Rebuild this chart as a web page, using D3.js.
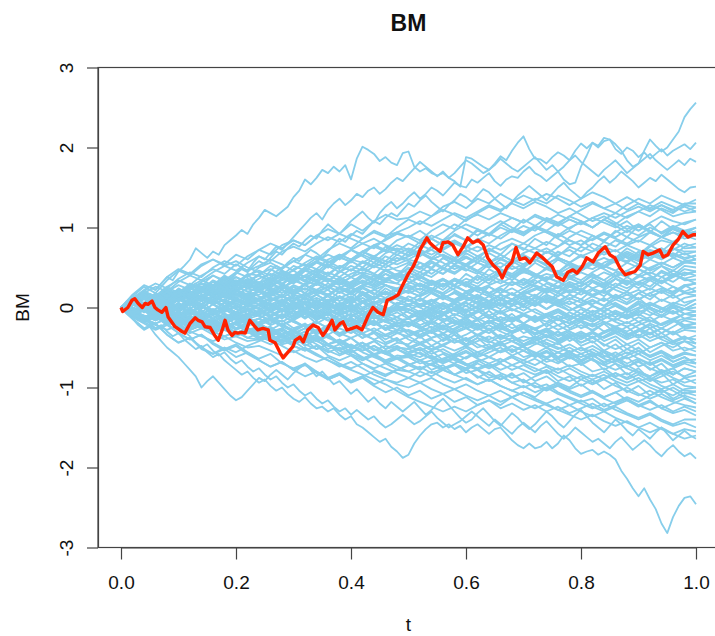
<!DOCTYPE html>
<html>
<head>
<meta charset="utf-8">
<script src="https://cdn.jsdelivr.net/npm/d3@7"></script>
<style>
  body { margin: 0; background: #ffffff; }
  svg { display: block; }
  text { font-family: "Liberation Sans", Arial, Helvetica, sans-serif; fill: #111; }
</style>
</head>
<body>
<svg id="chart" width="715" height="636"></svg>
<script>
// Axis ticks
const xTicks = [0, 0.2, 0.4, 0.6, 0.8, 1.0];
const yTicks = [-3, -2, -1, 0, 1, 2, 3];

// Simulated Brownian paths on [0, 1], values in hundredths, equally spaced in time.
const high1 = [0,8,14,10,20,26,22,30,38,34,45, 52,60,74,68,62,70,66,78,84,90, 97,92,104,112,122,118,114,120,126,138, 146,160,154,162,172,168,176,170,178,160, 186,201,197,192,183,188,181,178,193,195, 176,170,174,168,165,168,162,158,151,188, 186,181,176,172,180,189,184,196,206,214, 198,186,185,180,188,194,190,184,196,205, 199,206,202,212,210,198,192,200,196,188, 194,186,192,198,190,196,200,204,198,206];
const high2 = [0,-6,2,10,4,12,18,14,8,16,22, 18,26,30,24,34,40,36,28,34,42, 48,44,52,58,54,62,70,66,74,80, 76,84,90,86,96,104,98,92,100,108, 114,120,112,106,118,126,132,124,130,138, 144,136,142,150,146,140,148,156,152,150, 160,156,162,168,158,152,160,164,162,170, 176,168,164,158,164,170,160,154,156,176, 190,206,200,208,210,204,196,184,176,180, 196,210,202,195,200,210,220,238,248,256];
const high3 = [0,6,-2,4,12,8,16,10,4,12,18, 24,20,14,22,30,26,34,40,36,44, 50,46,56,64,60,68,76,72,80,88, 96,104,112,118,110,122,130,136,128,134, 142,138,146,150,142,148,156,162,158,166, 174,182,176,170,164,170,162,168,176,184, 180,174,168,172,178,186,180,174,170,176, 182,188,180,172,178,170,176,184,190,182, 176,170,164,172,178,184,176,168,174,180, 186,192,184,178,172,178,184,178,186,182];
const high4 = [0,-4,-10,-4,2,-2,6,12,8,14,20, 14,8,16,22,18,26,32,28,20,26, 34,40,36,30,38,46,52,48,56,62, 58,66,72,68,62,70,78,86,82,90, 96,92,100,108,104,112,118,114,122,130, 126,134,140,132,126,120,128,134,142,138, 132,140,148,144,136,130,124,132,140,146, 152,146,140,134,142,150,156,148,142,136, 144,150,158,164,156,162,170,164,158,150, 156,162,158,166,160,154,148,144,150,151];
const low1 = [0,-4,-10,-16,-12,-20,-26,-22,-30,-36,-32, -40,-46,-52,-48,-56,-62,-58,-66,-72,-78, -84,-80,-88,-94,-90,-98,-104,-100,-108,-114, -118,-112,-120,-126,-124,-130,-126,-134,-140,-136, -146,-150,-156,-162,-168,-164,-174,-180,-188,-184, -170,-160,-152,-146,-144,-150,-146,-152,-148,-156, -150,-146,-152,-158,-152,-150,-158,-166,-172,-176, -170,-176,-174,-168,-176,-170,-160,-166,-176,-183, -180,-178,-184,-180,-184,-190,-204,-214,-226,-236, -226,-240,-252,-270,-282,-262,-248,-238,-236,-246];
const low2 = [0,6,0,-6,-2,-10,-16,-12,-20,-26,-22, -30,-36,-44,-50,-46,-54,-60,-56,-64,-70, -66,-74,-80,-76,-84,-90,-86,-94,-100,-96, -104,-110,-106,-114,-120,-116,-124,-130,-126,-134, -128,-134,-140,-136,-144,-150,-146,-140,-134,-140, -146,-142,-136,-130,-138,-144,-150,-146,-142,-136, -130,-136,-142,-148,-140,-146,-152,-158,-150,-144, -150,-156,-148,-142,-150,-158,-164,-158,-150,-156, -162,-168,-164,-170,-176,-168,-162,-170,-178,-172, -166,-172,-180,-186,-178,-172,-180,-186,-182,-189];
const low3 = [0,-8,-14,-22,-28,-24,-34,-42,-50,-56,-62, -70,-78,-86,-100,-92,-86,-94,-102,-110,-116, -112,-104,-96,-88,-92,-84,-78,-84,-90,-82, -76,-70,-78,-86,-80,-88,-96,-92,-100,-108, -102,-110,-118,-112,-120,-126,-118,-124,-130,-124, -118,-126,-134,-128,-120,-114,-122,-130,-138,-144, -140,-132,-126,-134,-142,-148,-140,-132,-138,-146, -152,-146,-138,-130,-136,-144,-150,-142,-134,-128, -136,-144,-150,-156,-148,-140,-146,-154,-160,-152, -158,-164,-156,-150,-158,-166,-160,-154,-160,-164];

const core01 = [0,8,-4,6,16,10,22,30,24,36,30,42,40,52,46,38,50,58,66,60,72,64,56,68,74,70,82,90,84,96,104,98,92,104,112,106,116,110,104,114,122,130,124,118,128,136,130,140,134,128,135];
const core02 = [0,-8,2,12,6,-2,8,16,10,22,14,24,20,30,40,34,46,56,50,62,72,66,78,84,92,88,96,86,94,104,98,90,100,108,100,94,102,96,106,114,108,100,110,118,112,120,128,122,114,118,120];
const core03 = [0,6,-2,-10,-4,-14,-8,2,-6,-16,-10,-4,-10,0,8,2,12,6,16,24,18,26,34,28,22,30,40,48,42,54,62,56,68,60,72,80,74,82,76,88,96,90,84,94,102,96,106,114,108,104,110];
const core04 = [0,12,20,14,26,34,28,40,48,42,54,46,52,60,54,46,56,64,58,50,58,66,60,54,62,58,50,42,52,60,54,64,72,66,58,68,74,68,76,84,78,86,94,88,96,90,100,94,102,96,100];
const core05 = [0,8,14,6,16,22,18,26,20,28,34,30,24,32,40,46,38,44,36,30,38,44,40,34,42,48,40,32,26,34,28,20,14,22,16,24,30,38,32,42,50,58,52,62,70,64,76,84,80,90,95];
const core06 = [0,-6,4,10,2,12,6,14,8,0,8,14,10,18,26,20,30,38,32,44,52,46,56,50,58,64,72,66,74,82,76,86,80,90,98,92,100,94,88,96,90,84,92,86,80,88,94,88,82,90,85];
const core07 = [0,-6,-14,-8,-18,-12,-22,-16,-24,-18,-26,-20,-14,-20,-10,-4,-12,-2,6,0,8,16,10,20,14,22,30,24,16,24,32,26,36,30,38,44,40,34,42,50,46,56,50,60,68,62,70,64,72,80,75];
const core08 = [0,10,4,14,20,14,24,30,26,34,28,36,30,22,28,20,14,22,16,8,14,6,12,20,14,8,16,24,18,28,36,30,40,48,42,52,60,54,62,56,64,58,50,58,66,60,68,62,74,66,70];
const core09 = [0,8,0,-6,2,-6,4,10,4,-4,2,-4,0,8,14,8,16,22,16,26,20,28,34,28,24,30,38,32,26,34,28,20,26,18,24,16,22,30,24,32,26,36,44,38,46,40,50,56,50,58,60];
const core10 = [0,10,18,12,22,16,26,34,28,38,32,40,46,40,50,58,52,62,56,66,60,70,64,72,66,74,68,60,66,58,52,60,54,46,40,48,42,36,44,38,46,54,48,40,46,54,48,56,50,58,55];
const core11 = [0,-4,-12,-6,-16,-10,-18,-24,-18,-26,-20,-14,-22,-16,-8,-14,-6,-12,-4,-10,-2,-8,-14,-6,-12,-4,4,-2,6,0,8,14,8,16,10,18,24,18,26,20,28,34,28,36,30,38,44,38,46,40,45];
const core12 = [0,6,14,8,18,12,20,14,24,18,26,20,14,8,14,6,0,6,-2,-8,-2,-10,-4,-12,-6,-14,-8,-2,-8,0,-6,2,8,2,10,4,12,6,14,22,16,24,18,26,34,28,36,30,38,44,40];
const core13 = [0,-6,2,8,2,10,4,12,6,14,8,2,10,16,12,20,28,22,30,24,32,40,34,42,36,44,38,30,36,28,20,26,18,12,18,10,4,10,2,-4,2,8,2,10,16,10,18,24,20,28,30];
const core14 = [0,-8,-4,-12,-18,-12,-20,-26,-20,-28,-34,-28,-32,-26,-34,-28,-22,-30,-24,-16,-22,-14,-20,-26,-18,-24,-16,-10,-16,-8,-14,-6,0,-6,2,8,2,10,4,12,6,14,8,16,10,18,24,18,26,20,25];
const core15 = [0,6,12,6,16,22,16,26,20,28,34,28,32,26,34,40,34,28,36,30,24,32,26,34,40,32,26,34,28,36,30,22,28,34,28,36,30,38,32,26,32,24,30,22,16,22,14,20,12,18,15];
const core16 = [0,4,-4,2,-6,-12,-6,-14,-8,-2,-8,-2,-10,-16,-10,-18,-24,-18,-26,-32,-26,-34,-40,-34,-42,-36,-44,-38,-32,-40,-34,-26,-32,-24,-30,-22,-28,-20,-14,-20,-12,-18,-10,-4,-10,-2,4,-2,6,2,10];
const core17 = [0,8,2,10,4,12,18,12,20,14,22,16,20,14,22,16,10,16,8,14,6,12,4,10,16,10,4,-2,4,-4,-10,-4,-12,-18,-12,-20,-26,-20,-28,-22,-16,-22,-14,-8,-14,-6,0,-6,2,-2,5];
const core18 = [0,-6,-12,-6,-14,-8,-2,-8,-14,-8,-16,-10,-8,-2,4,-2,6,12,6,14,8,16,22,16,24,18,24,18,12,18,10,16,8,2,8,14,8,16,10,4,10,2,-4,2,-6,0,6,0,-6,-2,0];
const core19 = [0,6,12,6,14,20,14,8,14,8,2,8,10,4,-2,-8,-2,-10,-16,-10,-18,-24,-18,-26,-32,-28,-34,-28,-22,-28,-20,-26,-18,-12,-18,-10,-16,-8,-14,-20,-14,-8,-14,-6,-12,-4,-10,-2,-8,-2,-5];
const core20 = [0,-4,-10,-16,-10,-18,-12,-20,-26,-20,-14,-20,-18,-12,-18,-10,-4,-10,-2,4,-2,6,0,-6,0,-6,-12,-6,-14,-20,-14,-22,-28,-22,-30,-24,-32,-26,-34,-28,-22,-28,-20,-14,-20,-12,-18,-10,-16,-8,-10];
const core21 = [0,10,6,14,22,16,24,30,24,32,26,34,30,36,30,22,28,20,26,18,24,16,22,28,22,20,14,20,12,6,12,4,-2,4,-4,2,-6,-12,-6,-14,-8,-16,-10,-18,-24,-18,-26,-20,-14,-22,-20];
const core22 = [0,-6,-14,-8,-16,-24,-18,-26,-20,-28,-34,-28,-30,-36,-30,-38,-44,-38,-46,-40,-48,-54,-48,-56,-50,-52,-46,-54,-48,-40,-46,-38,-44,-36,-42,-48,-42,-36,-42,-34,-40,-32,-38,-30,-36,-28,-34,-26,-32,-24,-25];
const core23 = [0,6,-2,4,-4,2,8,2,-6,0,-6,2,-2,4,-4,2,8,2,10,4,12,6,14,8,12,10,4,10,2,-4,2,-6,0,-8,-2,-8,-14,-8,-2,-10,-16,-10,-18,-24,-18,-26,-32,-26,-34,-28,-30];
const core24 = [0,8,14,8,16,10,18,24,18,26,20,16,20,12,6,12,4,-2,4,-4,-10,-4,-12,-18,-12,-20,-26,-20,-28,-22,-16,-24,-18,-26,-32,-26,-34,-28,-22,-30,-36,-30,-38,-32,-40,-34,-42,-36,-44,-38,-40];
const core25 = [0,-8,-2,-10,-16,-10,-18,-12,-20,-26,-20,-14,-20,-28,-34,-28,-36,-42,-36,-44,-50,-44,-52,-58,-52,-60,-66,-60,-68,-62,-70,-76,-70,-78,-72,-66,-72,-64,-70,-62,-68,-60,-54,-60,-52,-58,-50,-44,-50,-42,-45];
const core26 = [0,-4,4,10,4,12,6,14,8,16,10,4,10,16,22,16,24,18,26,32,26,34,28,36,30,24,30,22,16,8,14,6,0,6,-2,-8,-2,-10,-16,-10,-18,-24,-18,-26,-32,-38,-32,-40,-46,-42,-50];
const core27 = [0,-6,-12,-6,-14,-20,-14,-22,-16,-24,-18,-12,-20,-14,-22,-28,-22,-30,-24,-18,-24,-32,-26,-34,-28,-30,-36,-30,-38,-44,-38,-46,-52,-46,-54,-48,-44,-50,-56,-50,-58,-52,-60,-66,-60,-54,-62,-56,-64,-58,-60];
const core28 = [0,-8,-14,-20,-14,-22,-28,-22,-30,-36,-30,-38,-40,-34,-28,-34,-26,-32,-24,-18,-24,-16,-22,-14,-20,-18,-24,-30,-24,-32,-26,-34,-40,-34,-42,-36,-40,-46,-52,-46,-54,-48,-56,-62,-56,-64,-70,-64,-72,-66,-65];
const core29 = [0,6,12,6,14,8,16,10,4,10,16,10,8,2,-4,2,-6,-12,-6,-14,-8,-16,-22,-16,-24,-20,-26,-32,-26,-34,-40,-34,-42,-48,-42,-50,-56,-62,-56,-64,-58,-66,-72,-66,-74,-68,-76,-82,-76,-70,-75];
const core30 = [0,-4,2,-6,-12,-6,-14,-8,-2,-8,-14,-8,-10,-16,-22,-16,-24,-30,-24,-32,-38,-32,-40,-46,-40,-48,-54,-48,-56,-62,-56,-64,-70,-64,-72,-78,-84,-78,-86,-92,-86,-94,-88,-82,-90,-84,-92,-86,-80,-86,-80];
const core31 = [0,-6,-12,-8,-16,-22,-16,-24,-30,-24,-32,-26,-30,-38,-44,-38,-46,-52,-46,-54,-60,-66,-60,-68,-74,-80,-74,-82,-76,-70,-76,-68,-62,-68,-60,-66,-58,-64,-56,-62,-70,-64,-72,-78,-72,-80,-86,-80,-88,-94,-90];
const core32 = [0,6,-2,-8,-2,-10,-4,-12,-6,-14,-8,-12,-6,-12,-4,2,-4,4,-2,6,0,8,2,-4,2,-2,-8,-14,-8,-16,-22,-28,-22,-30,-36,-42,-36,-44,-50,-56,-62,-56,-64,-70,-76,-82,-88,-94,-90,-98,-100];
const core33 = [0,-8,-16,-10,-18,-24,-32,-26,-34,-40,-36,-42,-40,-46,-40,-48,-54,-48,-56,-50,-58,-64,-58,-66,-60,-62,-56,-64,-58,-66,-72,-66,-74,-68,-62,-70,-64,-72,-78,-72,-80,-86,-80,-88,-94,-88,-96,-102,-96,-104,-105];
const core34 = [0,-6,-2,-10,-16,-10,-18,-24,-18,-26,-20,-14,-20,-28,-34,-40,-34,-42,-48,-54,-48,-56,-62,-68,-62,-70,-76,-70,-78,-84,-78,-86,-92,-86,-94,-100,-94,-102,-96,-104,-110,-104,-112,-106,-100,-108,-114,-108,-116,-110,-115];
const core35 = [0,6,0,8,14,8,16,10,4,10,4,12,10,4,-2,-8,-2,-10,-16,-22,-16,-24,-30,-36,-30,-40,-46,-40,-48,-54,-48,-56,-62,-68,-62,-70,-76,-82,-76,-84,-90,-96,-90,-98,-104,-110,-104,-112,-118,-122,-125];
const core36 = [0,-8,-14,-8,-16,-22,-16,-24,-30,-24,-32,-26,-30,-36,-42,-36,-44,-38,-46,-52,-46,-54,-48,-56,-50,-52,-58,-64,-70,-64,-72,-78,-84,-90,-84,-92,-98,-104,-98,-106,-112,-106,-114,-120,-114,-122,-128,-122,-130,-124,-130];
const core37 = [0,-4,-10,-16,-10,-18,-12,-20,-26,-20,-28,-22,-20,-28,-36,-44,-38,-46,-54,-60,-54,-62,-70,-76,-82,-88,-94,-88,-96,-102,-96,-104,-110,-104,-112,-106,-114,-120,-114,-122,-116,-124,-130,-124,-132,-138,-132,-140,-146,-140,-140];
const core38 = [0,-8,-16,-22,-28,-22,-30,-36,-42,-36,-44,-50,-48,-54,-60,-54,-62,-68,-62,-70,-76,-70,-78,-84,-78,-80,-86,-80,-88,-94,-88,-96,-90,-98,-104,-98,-106,-100,-108,-114,-120,-126,-120,-128,-134,-140,-134,-142,-148,-144,-150];
const core39 = [0,6,-2,-8,-2,-10,-16,-10,-18,-12,-6,-14,-10,-16,-24,-30,-36,-30,-38,-44,-50,-44,-52,-58,-64,-60,-66,-72,-78,-84,-90,-96,-90,-98,-104,-110,-116,-122,-128,-122,-130,-136,-130,-138,-144,-150,-144,-152,-158,-152,-155];
const core40 = [0,-6,-14,-20,-14,-22,-28,-22,-30,-36,-30,-38,-32,-40,-48,-56,-50,-58,-66,-74,-68,-76,-84,-90,-96,-100,-94,-102,-108,-102,-110,-116,-110,-118,-112,-120,-126,-120,-128,-134,-140,-134,-142,-148,-142,-150,-156,-150,-158,-164,-160];
const core41 = [0,8,16,10,20,28,22,32,40,34,44,38,50,56,48,58,66,60,72,80,74,86,94,88,100,110,104,114,122,116,108,118,126,120,132,140,134,142,136,128,136,144,138,130,122,130,124,132,126,120,125];
const core42 = [0,-6,4,12,6,16,10,20,14,24,30,24,30,38,46,40,50,58,52,64,72,80,74,86,94,100,108,102,110,118,112,120,128,122,130,124,132,126,118,124,116,108,114,106,98,104,96,88,94,86,90];
const core43 = [0,4,10,4,12,18,12,20,14,22,16,24,20,28,36,30,40,48,42,52,46,56,50,58,54,60,68,62,72,80,74,84,92,86,96,90,100,94,86,78,84,74,66,72,62,54,46,52,42,36,30];
const core44 = [0,-6,2,-4,-12,-6,-14,-8,-2,-8,-14,-8,-10,-16,-10,-18,-24,-18,-26,-20,-14,-20,-12,-18,-24,-20,-12,-4,-10,-2,6,0,8,16,10,20,28,22,32,40,34,44,52,46,56,50,60,54,62,56,60];
const core45 = [0,8,2,10,16,10,18,12,20,26,20,28,22,30,24,32,38,32,40,34,42,48,42,36,42,40,34,28,34,26,20,26,18,24,16,10,16,8,2,8,0,-6,0,-8,-14,-8,-16,-22,-16,-24,-20];
const core46 = [0,10,-2,12,4,18,8,22,12,26,16,10,20,30,22,36,28,40,32,46,38,50,42,54,46,44,56,48,62,54,68,60,74,66,80,72,86,78,92,84,78,90,82,96,88,102,94,108,98,92,100];
const core47 = [0,-10,2,-8,-18,-6,-16,-4,-14,-22,-12,-20,-14,-4,-12,2,-6,8,0,14,6,20,12,24,16,20,30,22,36,28,42,34,48,40,52,44,56,48,60,52,46,58,50,64,56,70,62,74,66,60,65];
const core48 = [0,12,4,16,8,20,12,26,18,30,22,28,24,14,22,10,18,6,14,2,10,0,8,-4,6,2,12,4,16,8,20,12,26,18,32,24,34,26,20,30,22,14,20,10,4,12,0,-6,2,-8,-10];
const core49 = [0,-12,-2,-14,-6,-18,-10,-22,-14,-26,-18,-28,-24,-34,-26,-38,-30,-42,-34,-46,-38,-50,-42,-52,-44,-46,-36,-48,-40,-30,-42,-34,-26,-38,-30,-22,-34,-28,-40,-32,-44,-36,-48,-40,-52,-44,-56,-48,-42,-54,-50];
const core50 = [0,8,-4,6,-6,4,-8,2,-10,0,10,4,8,-4,4,-8,-2,-14,-6,-18,-12,-24,-16,-28,-22,-30,-38,-30,-42,-34,-46,-38,-50,-42,-56,-48,-62,-54,-68,-60,-72,-64,-78,-70,-84,-76,-90,-82,-96,-88,-95];
const core51 = [0,12,4,18,10,24,16,30,22,36,28,34,40,32,44,36,48,40,52,44,58,50,62,54,66,60,56,50,62,54,48,42,54,46,38,50,42,34,46,38,30,42,34,26,38,30,22,34,26,18,20];
const core52 = [0,-10,2,-8,4,-6,6,-4,-14,-2,-12,0,-6,6,-4,8,-2,10,0,14,4,16,6,12,2,10,0,-8,2,-10,-2,-14,-4,-16,-8,-20,-10,-24,-14,-26,-18,-30,-20,-32,-24,-36,-26,-38,-30,-40,-35];
const core53 = [0,6,-6,8,-2,12,4,16,8,20,12,18,10,22,14,26,18,30,22,34,26,38,30,42,34,36,28,20,30,22,14,24,16,8,18,10,2,12,6,16,10,22,14,26,20,32,26,38,32,42,45];
const core54 = [0,-10,-2,-14,-6,-18,-10,-22,-16,-28,-20,-32,-30,-40,-34,-46,-40,-52,-46,-58,-52,-64,-58,-70,-64,-72,-66,-78,-72,-84,-76,-88,-80,-90,-82,-94,-86,-80,-92,-86,-98,-90,-102,-94,-106,-98,-110,-102,-114,-106,-110];
const core55 = [0,10,2,14,6,18,10,22,14,26,18,12,20,10,16,4,12,0,8,-4,4,-8,0,-10,-2,-12,-4,-16,-8,-20,-12,-24,-16,-28,-20,-32,-26,-38,-30,-42,-34,-44,-36,-28,-38,-30,-22,-32,-24,-16,-20];
const core56 = [0,-6,6,-4,8,0,12,4,14,6,16,8,10,20,14,26,18,30,22,36,28,40,34,46,38,50,44,56,48,60,52,64,56,62,54,66,58,70,62,56,66,58,70,62,74,66,78,70,82,74,75];
const core57 = [0,6,-4,8,-2,-12,-2,-14,-6,-16,-8,-14,-4,-12,-2,-16,-8,-20,-12,-24,-14,-26,-18,-28,-20,-22,-12,-20,-10,-2,-12,-4,6,-2,10,2,14,6,18,10,20,14,22,12,20,10,18,8,16,6,10];
const core58 = [0,8,-2,10,2,12,4,-6,4,-6,2,-8,4,-6,6,-4,-14,-4,-16,-6,-18,-8,-20,-10,-16,-14,-4,-12,-2,6,-4,8,0,12,4,16,8,22,14,26,20,32,24,36,28,40,34,46,40,52,50];
const core59 = [0,-6,4,-8,2,-10,-2,-14,-6,-18,-10,-16,-20,-12,-22,-14,-6,-16,-8,-2,-12,-4,-14,-6,2,-6,-14,-8,-18,-12,-22,-16,-28,-20,-32,-26,-38,-30,-44,-36,-48,-42,-54,-46,-58,-50,-62,-56,-68,-62,-70];
const core60 = [0,10,20,12,24,16,28,20,32,26,38,30,42,48,40,52,46,58,50,64,56,70,62,76,70,80,74,86,78,92,84,98,90,104,96,110,102,112,106,98,108,100,110,102,94,104,96,88,98,92,95];
const core61 = [0,-8,-18,-10,-22,-14,-26,-18,-30,-22,-34,-28,-38,-32,-44,-36,-48,-40,-52,-46,-56,-50,-60,-54,-64,-58,-62,-54,-66,-58,-50,-60,-52,-44,-56,-48,-58,-50,-62,-54,-66,-58,-70,-62,-74,-66,-78,-70,-84,-76,-80];
const core62 = [0,10,-2,8,-4,6,-6,4,-8,2,-6,4,2,12,4,14,6,16,8,20,12,24,16,28,20,26,18,30,22,34,26,38,30,42,34,46,38,50,44,56,48,60,52,46,40,48,40,32,42,34,35];
const core63 = [0,6,-4,8,0,12,2,14,6,16,10,4,8,-2,6,-4,4,-8,0,-10,-4,-14,-8,-18,-12,-20,-14,-26,-18,-30,-24,-36,-28,-40,-34,-46,-38,-50,-44,-56,-50,-62,-56,-68,-62,-74,-68,-80,-76,-88,-85];
const core64 = [0,8,2,12,6,16,10,20,14,24,18,14,22,16,26,18,28,20,14,24,16,26,18,12,22,20,14,24,16,8,18,10,2,12,4,-4,6,-2,8,0,-8,2,-6,4,-4,6,-2,-10,0,-8,-5];
const core65 = [0,-8,2,-10,-4,-14,-6,-16,-10,-20,-12,-18,-14,-6,-14,-4,-12,-2,-10,2,-6,6,-2,10,4,14,8,18,10,20,12,6,14,4,10,0,8,-2,6,-4,4,10,2,14,6,18,10,22,16,26,30];
const core66 = [0,12,4,16,8,20,14,26,20,32,24,30,26,36,30,40,32,42,34,28,38,30,40,32,42,36,44,38,48,42,52,46,56,50,60,54,64,58,70,64,76,70,82,76,88,82,94,88,100,106,110];
const core67 = [0,-6,-16,-8,-18,-10,-20,-14,-24,-16,-26,-18,-22,-28,-20,-30,-22,-34,-26,-36,-28,-38,-30,-40,-32,-36,-30,-24,-32,-26,-18,-24,-16,-22,-14,-20,-12,-18,-10,-16,-8,-14,-6,-12,-4,-10,0,-6,4,-2,5];
const core68 = [0,-6,4,-4,6,-2,8,0,10,2,12,6,10,2,8,0,6,-2,4,-6,2,-8,0,-6,-4,-2,-10,-2,-8,0,6,-2,4,10,2,12,4,14,8,16,10,4,12,2,-4,4,-6,-12,-4,-14,-15];
const core69 = [0,-10,-4,-14,-8,-18,-12,-22,-16,-26,-20,-28,-26,-32,-26,-36,-30,-40,-34,-44,-38,-48,-42,-52,-48,-56,-50,-58,-52,-60,-54,-62,-56,-50,-60,-54,-62,-56,-64,-58,-66,-60,-68,-62,-70,-64,-72,-66,-74,-68,-70];
const core70 = [0,4,14,6,16,8,18,10,20,12,22,14,16,24,18,28,22,32,26,38,30,42,36,48,40,54,48,58,50,44,52,44,36,46,38,30,40,32,26,36,30,40,34,44,38,48,42,52,46,56,55];
const core71 = [0,-8,4,-6,6,-4,8,-2,10,2,-6,4,-2,-10,-2,-12,-4,-16,-8,-20,-14,-24,-18,-28,-22,-34,-28,-38,-34,-44,-40,-50,-46,-56,-52,-62,-58,-68,-64,-74,-70,-80,-76,-86,-82,-92,-88,-98,-104,-112,-120];
const core72 = [0,8,16,10,20,14,24,18,28,22,30,26,24,34,28,40,34,46,40,52,46,58,52,64,58,70,64,76,70,62,72,64,56,66,58,50,60,52,44,54,48,58,52,62,56,66,60,70,64,76,80];
const core73 = [0,6,-6,4,-4,6,-2,8,-4,6,-2,-8,-4,-10,-2,-12,-4,-14,-6,-16,-8,-18,-10,-12,-20,-14,-22,-16,-24,-18,-26,-20,-28,-22,-30,-24,-34,-28,-36,-30,-38,-32,-42,-36,-46,-40,-50,-44,-54,-50,-55];
const core74 = [0,10,2,12,4,14,6,16,8,18,10,6,12,4,10,2,8,0,6,-2,4,-4,2,-6,0,-2,-8,0,-10,-2,-12,-4,-14,-6,-16,-8,-18,-10,-4,-12,-2,-10,0,6,-2,8,2,10,4,12,15];
const core75 = [0,-6,4,-8,2,-10,0,-12,-4,-14,-6,-10,-8,2,-6,4,-2,8,2,12,6,16,10,20,14,28,22,32,26,36,30,40,34,44,38,46,40,48,42,36,44,38,30,40,32,24,34,26,18,28,20];
const core76 = [0,10,4,16,8,20,12,24,16,28,20,32,28,20,26,18,24,16,22,12,18,8,14,6,12,10,2,8,-2,4,-6,0,-10,-4,-14,-8,-18,-12,-22,-16,-26,-20,-30,-24,-34,-28,-38,-32,-42,-36,-45];
const core77 = [0,-10,-16,-8,-20,-12,-24,-16,-28,-20,-32,-26,-34,-28,-38,-30,-36,-28,-34,-26,-32,-24,-30,-22,-28,-20,-26,-18,-24,-16,-22,-14,-20,-12,-18,-10,-16,-8,-14,-6,-12,-4,-10,-16,-8,-18,-12,-22,-16,-26,-25];
const core78 = [0,-6,6,-4,8,-2,10,2,-4,6,-2,8,4,12,8,16,12,20,16,24,20,28,24,32,30,44,36,48,42,52,46,56,50,60,54,64,58,70,64,76,70,80,74,84,78,72,66,74,62,68,60];
const core79 = [0,-8,2,-10,-2,-12,-4,-14,-6,-16,-10,-18,-14,-22,-16,-26,-20,-30,-24,-34,-28,-38,-32,-44,-38,-50,-44,-52,-46,-40,-48,-42,-36,-44,-38,-46,-40,-34,-42,-36,-30,-38,-32,-26,-34,-28,-20,-26,-18,-14,-10];
const core80 = [0,6,-4,8,-2,10,2,12,4,-2,6,-4,4,-6,2,-8,0,-6,2,-4,4,-2,6,0,-4,2,-6,4,-2,8,2,12,6,16,10,20,14,24,18,28,22,32,26,36,30,40,34,44,38,48,45];
const core81 = [0,14,26,18,34,46,40,52,60,54,66,60,72,80,74,84,78,90,98,92,104,96,108,116,110,112,120,114,126,132,124,136,130,142,134,128,136,130,140,134,126,132,124,130,138,130,122,128,120,126,120];
const core82 = [0,-10,4,-8,6,-4,10,2,16,8,22,16,30,24,38,32,46,40,54,48,60,56,64,58,70,66,78,72,84,90,84,96,90,100,94,102,96,108,102,110,104,112,106,100,108,96,104,92,100,94,100];
const core83 = [0,10,20,14,26,18,30,22,34,28,38,32,40,34,44,38,50,44,56,62,58,70,78,72,84,90,84,96,104,98,110,116,110,118,112,106,114,108,116,110,104,112,118,112,120,126,120,128,122,130,130];
const core84 = [0,-14,-26,-20,-34,-44,-38,-50,-58,-52,-62,-56,-66,-74,-68,-78,-72,-82,-90,-84,-94,-88,-98,-106,-100,-110,-104,-114,-108,-118,-112,-122,-116,-126,-120,-128,-122,-130,-124,-132,-126,-120,-128,-122,-116,-124,-118,-126,-120,-114,-120];
const core85 = [0,8,-4,6,-6,2,-10,-4,-16,-10,-22,-16,-28,-24,-34,-28,-40,-34,-46,-42,-52,-48,-58,-54,-64,-62,-70,-66,-76,-72,-82,-78,-88,-84,-94,-90,-100,-96,-106,-112,-118,-114,-124,-118,-112,-118,-110,-104,-110,-102,-100];
const core86 = [0,-10,-18,-12,-22,-16,-28,-22,-32,-26,-36,-30,-40,-34,-46,-42,-52,-60,-66,-72,-78,-84,-90,-96,-104,-112,-118,-124,-130,-124,-130,-122,-116,-122,-112,-106,-112,-100,-94,-100,-90,-84,-90,-82,-88,-80,-86,-78,-84,-76,-80];
const core87 = [0,16,28,22,38,48,42,54,60,52,58,50,44,36,42,34,28,34,26,20,26,18,12,18,10,4,10,2,-6,0,-8,-16,-10,-18,-26,-20,-28,-36,-30,-38,-44,-38,-46,-52,-46,-54,-60,-54,-62,-56,-60];
const core88 = [0,-14,-26,-20,-34,-44,-38,-52,-58,-50,-56,-48,-42,-36,-40,-32,-26,-30,-22,-16,-20,-12,-6,-10,-2,4,0,8,14,10,18,24,18,26,32,28,36,42,38,46,52,48,56,62,58,66,72,68,74,70,70];
const core89 = [0,12,22,30,24,36,44,38,50,58,52,64,72,66,78,84,78,90,84,92,86,80,86,78,72,64,70,62,56,48,54,46,40,34,28,34,26,20,26,18,24,16,22,30,24,32,38,32,40,36,40];
const core90 = [0,-12,-20,-28,-22,-32,-40,-34,-46,-54,-48,-58,-66,-74,-68,-78,-86,-80,-90,-84,-92,-86,-80,-86,-78,-72,-78,-70,-64,-70,-62,-56,-62,-54,-48,-54,-46,-40,-46,-38,-32,-38,-30,-24,-30,-22,-16,-22,-14,-8,-10];
const core91 = [0,6,-4,8,14,8,18,12,22,16,26,20,24,30,24,34,40,34,44,38,48,42,52,46,50,56,50,60,66,60,70,76,70,80,86,80,90,96,90,100,106,100,110,104,114,120,114,124,118,128,125];
const core92 = [0,-6,4,-8,-14,-8,-18,-12,-22,-16,-26,-20,-24,-30,-26,-36,-42,-36,-46,-40,-50,-44,-54,-48,-52,-58,-52,-62,-68,-62,-72,-78,-72,-82,-88,-82,-92,-86,-96,-102,-96,-106,-112,-106,-116,-122,-116,-126,-132,-128,-135];
const core93 = [0,10,18,26,20,32,40,34,44,52,46,56,64,58,70,76,70,80,88,82,92,86,96,90,94,88,80,86,78,84,76,70,78,72,80,74,68,74,66,72,64,70,76,70,78,84,78,88,94,90,95];
const core94 = [0,-10,-18,-26,-20,-32,-40,-34,-44,-52,-46,-56,-64,-58,-70,-76,-70,-80,-88,-82,-92,-86,-96,-90,-94,-88,-80,-86,-78,-72,-78,-70,-76,-70,-78,-72,-80,-74,-82,-76,-84,-90,-84,-92,-98,-92,-100,-106,-100,-108,-105];
const core95 = [0,8,16,10,20,14,24,18,28,24,32,28,36,42,36,48,54,48,60,66,60,70,76,70,78,72,66,72,64,58,64,56,50,56,48,54,60,54,62,56,50,56,62,56,64,58,66,60,68,62,65];
const core96 = [0,-8,-16,-10,-20,-14,-24,-18,-28,-24,-32,-28,-36,-42,-36,-48,-54,-48,-60,-66,-60,-70,-76,-70,-78,-72,-66,-72,-64,-58,-64,-56,-50,-56,-48,-54,-60,-54,-62,-56,-50,-56,-62,-56,-64,-58,-66,-60,-68,-62,-70];

const bluePaths = [
  core01, core02, core03, core04, core05, core06, core07, core08, core09, core10,
  core11, core12, core13, core14, core15, core16, core17, core18, core19, core20,
  core21, core22, core23, core24, core25, core26, core27, core28, core29, core30,
  core31, core32, core33, core34, core35, core36, core37, core38, core39, core40,
  core41, core42, core43, core44, core45, core46, core47, core48, core49, core50,
  core51, core52, core53, core54, core55, core56, core57, core58, core59, core60,
  core61, core62, core63, core64, core65, core66, core67, core68, core69, core70,
  core71, core72, core73, core74, core75, core76, core77, core78, core79, core80,
  core81, core82, core83, core84, core85, core86, core87, core88, core89, core90,
  core91, core92, core93, core94, core95, core96,
  high1, high2, high3, high4, low1, low2, low3
];

// Highlighted path: time stamps and values
const redT = [0,.003,.012,.019,.024,.030,.037,.042,.047,.054,.059,.064,.071,.078,.082,.094,.106,.111,.120,.129,.134,.141,.146,.155,.163,.169,.176,.181,.186,.193,.198,.203,.210,.216,.224,.233,.238,.247,.256,.259,.268,.277,.282,.290,.299,.303,.311,.317,.325,.334,.343,.351,.358,.367,.372,.381,.386,.393,.402,.410,.419,.424,.430,.438,.447,.456,.463,.473,.482,.490,.499,.508,.515,.520,.532,.537,.546,.555,.560,.569,.577,.586,.595,.603,.612,.621,.630,.638,.647,.656,.663,.671,.680,.687,.694,.703,.711,.723,.732,.741,.750,.758,.769,.777,.786,.793,.802,.810,.821,.830,.842,.850,.859,.868,.877,.885,.894,.903,.908,.917,.925,.937,.943,.951,.960,.969,.977,.986,.995,1];
const redV = [0,-.05,0,.09,.11,.05,0,.05,.04,.08,0,-.03,-.06,0,-.12,-.24,-.30,-.32,-.20,-.13,-.16,-.18,-.24,-.25,-.35,-.41,-.28,-.16,-.28,-.35,-.31,-.32,-.31,-.32,-.16,-.24,-.28,-.26,-.28,-.41,-.44,-.57,-.63,-.56,-.49,-.41,-.37,-.43,-.28,-.22,-.25,-.35,-.28,-.16,-.28,-.20,-.18,-.28,-.26,-.24,-.28,-.20,-.10,0,-.06,-.09,.09,.12,.16,.28,.41,.51,.62,.72,.87,.81,.75,.70,.81,.82,.78,.66,.76,.87,.81,.84,.78,.62,.53,.47,.37,.50,.57,.75,.60,.62,.56,.68,.63,.57,.51,.38,.34,.44,.47,.43,.51,.62,.57,.68,.76,.66,.62,.49,.41,.43,.45,.53,.70,.66,.68,.72,.63,.66,.78,.85,.95,.88,.91,.91];

const titleText = "BM";
const xLabel = "t";
const yLabel = "BM";

// ---- layout ----
const svg = d3.select("#chart");
const x = d3.scaleLinear().domain([-0.04, 1.04]).range([98, 719]);
const y = d3.scaleLinear().domain([-3, 3]).range([547.5, 67.5]);
const axisColor = "#444";

const line = d3.line().x(d => x(d[0])).y(d => y(d[1]));
const toPoints = arr => { const n = arr.length - 1; return arr.map((v, i) => [i / n, v / 100]); };

// blue sample paths
svg.append("g")
  .selectAll("path")
  .data(bluePaths)
  .join("path")
  .attr("d", d => line(toPoints(d)))
  .attr("fill", "none")
  .attr("stroke", "#87ceeb")
  .attr("stroke-width", 1.8)
  .attr("stroke-linejoin", "round");

// highlighted path
const n = Math.min(redT.length, redV.length);
svg.append("path")
  .attr("d", line(d3.range(n).map(i => [redT[i], redV[i]])))
  .attr("fill", "none")
  .attr("stroke", "#ff2200")
  .attr("stroke-width", 3.4)
  .attr("stroke-linejoin", "round");

// plot box
svg.append("rect")
  .attr("x", x(-0.04)).attr("y", y(3))
  .attr("width", x(1.04) - x(-0.04)).attr("height", y(-3) - y(3))
  .attr("fill", "none").attr("stroke", axisColor).attr("stroke-width", 1.2);

// x axis
const xa = d3.scaleLinear().domain([0, 1]).range([x(0), x(1)]);
const gx = svg.append("g")
  .attr("transform", `translate(0,${y(-3)})`)
  .call(d3.axisBottom(xa).tickValues(xTicks).tickFormat(d3.format(".1f")).tickSize(12).tickSizeOuter(0));
gx.attr("font-size", 19).attr("font-family", "Liberation Sans, Arial, sans-serif");
gx.selectAll("path, line").attr("stroke", axisColor).attr("stroke-width", 1.2);
gx.selectAll("text").attr("y", 41.5).attr("dy", null).attr("fill", "#111");

// y axis
const gy = svg.append("g")
  .attr("transform", `translate(${x(-0.04)},0)`)
  .call(d3.axisLeft(y).tickValues(yTicks).tickFormat(d3.format("d")).tickSize(11).tickSizeOuter(0));
gy.attr("font-size", 19).attr("font-family", "Liberation Sans, Arial, sans-serif");
gy.selectAll("path, line").attr("stroke", axisColor).attr("stroke-width", 1.2);
gy.selectAll("text")
  .attr("x", null).attr("dy", null)
  .attr("text-anchor", "middle")
  .attr("transform", "translate(-25,0) rotate(-90)")
  .attr("fill", "#111")
  .text(d => String(d).replace("\u2212", "-"));

// titles
const cx = (x(-0.04) + x(1.04)) / 2;
svg.append("text").attr("x", cx).attr("y", 31).attr("text-anchor", "middle")
  .attr("font-size", 23).attr("font-weight", "bold").text(titleText);
svg.append("text").attr("x", cx).attr("y", 631).attr("text-anchor", "middle")
  .attr("font-size", 19).text(xLabel);
svg.append("text").attr("transform", `translate(29,${y(0)}) rotate(-90)`).attr("text-anchor", "middle")
  .attr("font-size", 19).text(yLabel);
</script>
</body>
</html>
